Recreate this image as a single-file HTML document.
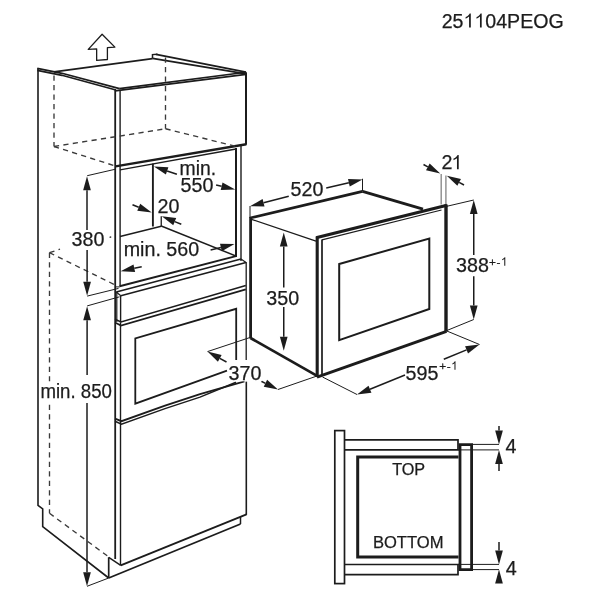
<!DOCTYPE html>
<html><head><meta charset="utf-8"><title>251104PEOG</title>
<style>html,body{margin:0;padding:0;background:#fff;width:600px;height:600px;overflow:hidden;font-family:"Liberation Sans",sans-serif}</style>
</head><body>
<svg width="600" height="600" viewBox="0 0 600 600" stroke="#1c1c1c" fill="#1c1c1c" font-family="'Liberation Sans', sans-serif" style="display:block;will-change:transform">
<rect x="0" y="0" width="600" height="600" fill="#ffffff" stroke="none"/>
<g>
<polyline points="38,68.3 38,505.3 42.7,508.8 42.7,526.7 108.7,578" fill="none" stroke-width="1.6" stroke-linejoin="miter"/>
<polyline points="37.3,68.4 62,73.3 119.5,88.6" fill="none" stroke-width="1.7" stroke-linejoin="miter"/>
<polyline points="37.3,70.3 62,75.3 115,89.7" fill="none" stroke-width="1.7" stroke-linejoin="miter"/>
<line x1="54" y1="71.9" x2="152.5" y2="58.6" stroke-width="1.6" stroke-linecap="butt"/>
<polyline points="152.5,58.6 152.5,54.6 157.5,54.2" fill="none" stroke-width="1.5" stroke-linejoin="miter"/>
<line x1="156" y1="54.3" x2="246" y2="72.2" stroke-width="1.8" stroke-linecap="butt"/>
<line x1="152.5" y1="58.4" x2="246" y2="73.8" stroke-width="1.7" stroke-linecap="butt"/>
<line x1="119.3" y1="88.6" x2="246" y2="72.3" stroke-width="1.6" stroke-linecap="butt"/>
<line x1="115" y1="90.9" x2="246" y2="74.3" stroke-width="1.7" stroke-linecap="butt"/>
<line x1="115.2" y1="89" x2="115.2" y2="559" stroke-width="1.8" stroke-linecap="butt"/>
<line x1="120.1" y1="90" x2="120.1" y2="286.3" stroke-width="1.4" stroke-linecap="butt"/>
<line x1="120.5" y1="322.5" x2="120.5" y2="565.3" stroke-width="1.4" stroke-linecap="butt"/>
<line x1="246" y1="72.2" x2="246" y2="144.8" stroke-width="2.0" stroke-linecap="butt"/>
<line x1="115.5" y1="166.4" x2="246.3" y2="144.2" stroke-width="2.4" stroke-linecap="butt"/>
<line x1="120" y1="169.8" x2="236" y2="149.0" stroke-width="1.3" stroke-linecap="butt"/>
<line x1="236" y1="148" x2="236" y2="257" stroke-width="2.0" stroke-linecap="butt"/>
<line x1="241" y1="145" x2="241" y2="261" stroke-width="1.4" stroke-linecap="butt"/>
<line x1="152.9" y1="163.6" x2="152.9" y2="226.5" stroke-width="1.9" stroke-linecap="butt"/>
<line x1="161.25" y1="216.25" x2="161.25" y2="226.25" stroke-width="1.3" stroke-linecap="butt"/>
<line x1="120" y1="236.5" x2="161.25" y2="226.25" stroke-width="1.4" stroke-linecap="butt"/>
<line x1="161.25" y1="226.0" x2="235.8" y2="256.0" stroke-width="1.4" stroke-linecap="butt"/>
<line x1="115.2" y1="286.9" x2="119.8" y2="286.9" stroke-width="1.0" stroke-linecap="butt"/>
<line x1="109.6" y1="237.3" x2="111.2" y2="236.9" stroke-width="1.2" stroke-linecap="butt"/>
<line x1="119.6" y1="286.25" x2="236" y2="256.2" stroke-width="1.9" stroke-linecap="butt"/>
<line x1="116.25" y1="292" x2="241" y2="259" stroke-width="1.6" stroke-linecap="butt"/>
<line x1="120.8" y1="295.8" x2="246" y2="262.5" stroke-width="1.7" stroke-linecap="butt"/>
<line x1="116.25" y1="292" x2="120.8" y2="295.8" stroke-width="1.2" stroke-linecap="butt"/>
<line x1="241" y1="259" x2="246" y2="262.5" stroke-width="1.2" stroke-linecap="butt"/>
<line x1="120.6" y1="295.8" x2="120.6" y2="322.5" stroke-width="1.4" stroke-linecap="butt"/>
<line x1="116.8" y1="292" x2="116.8" y2="322" stroke-width="1.2" stroke-linecap="butt"/>
<line x1="246.2" y1="262" x2="246.2" y2="360" stroke-width="1.3" stroke-linecap="butt"/>
<line x1="246.3" y1="381.5" x2="246.3" y2="514.9" stroke-width="1.6" stroke-linecap="butt"/>
<polyline points="115,319.3 121,322.0 245.8,285.5" fill="none" stroke-width="1.6" stroke-linejoin="miter"/>
<polyline points="115,322.6 121,325.5 245.8,289.4" fill="none" stroke-width="1.7" stroke-linejoin="miter"/>
<polyline points="227,370.7 135.3,403.6 135.3,338.4 236.2,308.8 236.2,360" fill="none" stroke-width="1.8" stroke-linejoin="miter"/>
<polyline points="115,418.6 121.5,421.2 165,405.7 200,394.1 244.5,381.4" fill="none" stroke-width="1.8" stroke-linejoin="miter"/>
<polyline points="115,421.2 121.5,424.2 165,408.6 200,397.1 236,382.2" fill="none" stroke-width="1.5" stroke-linejoin="miter"/>
<line x1="120.7" y1="565.3" x2="246.5" y2="514.3" stroke-width="1.9" stroke-linecap="butt"/>
<line x1="108.7" y1="578" x2="240.5" y2="524" stroke-width="1.8" stroke-linecap="butt"/>
<line x1="240.5" y1="517" x2="240.5" y2="524" stroke-width="1.5" stroke-linecap="butt"/>
<line x1="108.7" y1="557.3" x2="108.7" y2="578" stroke-width="1.7" stroke-linecap="butt"/>
<line x1="108.7" y1="557.3" x2="120.7" y2="565.3" stroke-width="1.5" stroke-linecap="butt"/>
<line x1="54" y1="75.5" x2="54" y2="146.5" stroke-width="1.35" stroke-dasharray="5.2 4.3" stroke="#3a3a3a" stroke-linecap="butt"/>
<line x1="54" y1="146.5" x2="116" y2="166.2" stroke-width="1.35" stroke-dasharray="5.2 4.3" stroke="#3a3a3a" stroke-linecap="butt"/>
<line x1="54" y1="146.5" x2="165.5" y2="128.75" stroke-width="1.35" stroke-dasharray="5.2 4.3" stroke="#3a3a3a" stroke-linecap="butt"/>
<line x1="165.5" y1="57.5" x2="165.5" y2="128.75" stroke-width="1.35" stroke-dasharray="5.2 4.3" stroke="#3a3a3a" stroke-linecap="butt"/>
<line x1="165.5" y1="128.75" x2="236" y2="146.4" stroke-width="1.35" stroke-dasharray="5.2 4.3" stroke="#3a3a3a" stroke-linecap="butt"/>
<line x1="49.5" y1="252.7" x2="60" y2="249.2" stroke-width="1.35" stroke-dasharray="5.2 4.3" stroke="#3a3a3a" stroke-linecap="butt"/>
<line x1="49.5" y1="252.7" x2="114.7" y2="284.7" stroke-width="1.35" stroke-dasharray="5.2 4.3" stroke="#3a3a3a" stroke-linecap="butt"/>
<line x1="49.5" y1="252.7" x2="49.5" y2="513.3" stroke-width="1.35" stroke-dasharray="5.2 4.3" stroke="#3a3a3a" stroke-linecap="butt"/>
<line x1="49.5" y1="513.3" x2="108.7" y2="556.9" stroke-width="1.35" stroke-dasharray="5.2 4.3" stroke="#3a3a3a" stroke-linecap="butt"/>
<polygon points="102.1,34.2 114.9,47.1 107.4,47.65 107.4,59.5 96.65,60.4 96.65,48.85 88.25,49.4" fill="none" stroke-width="1.3" stroke-linejoin="round"/>
<line x1="250.6" y1="217" x2="250.6" y2="338.5" stroke-width="2.8" stroke-linecap="butt"/>
<line x1="250" y1="218" x2="362.5" y2="191.4" stroke-width="2.7" stroke-linecap="butt"/>
<line x1="251.5" y1="219.3" x2="316" y2="241.2" stroke-width="1.3" stroke-linecap="butt"/>
<line x1="362.5" y1="191.4" x2="423" y2="209.2" stroke-width="2.9" stroke-linecap="butt"/>
<line x1="316" y1="237.8" x2="447" y2="205.2" stroke-width="3.2" stroke-linecap="butt"/>
<line x1="322" y1="239.8" x2="441.5" y2="210.0" stroke-width="1.2" stroke-linecap="butt"/>
<line x1="317.2" y1="237" x2="317.2" y2="377" stroke-width="3.1" stroke-linecap="butt"/>
<line x1="322" y1="239.6" x2="322" y2="375.5" stroke-width="1.7" stroke-linecap="butt"/>
<line x1="446" y1="204.5" x2="446" y2="331.5" stroke-width="3.4" stroke-linecap="butt"/>
<line x1="250.5" y1="338" x2="318" y2="376.4" stroke-width="2.8" stroke-linecap="butt"/>
<line x1="317" y1="377.2" x2="446.5" y2="331.3" stroke-width="3.0" stroke-linecap="butt"/>
<polygon points="339.2,264 429.3,238.5 429.3,309 339.2,340.2" fill="none" stroke-width="2.0" stroke-linejoin="miter"/>
<rect x="334.8" y="430.6" width="9.7" height="153" fill="none" stroke-width="1.7"/>
<polyline points="344.5,439.9 458,439.9 458,449.9 344.5,449.9" fill="none" stroke-width="1.7" stroke-linejoin="miter"/>
<polyline points="344.5,564.5 458,564.5 458,574.6 344.5,574.6" fill="none" stroke-width="1.7" stroke-linejoin="miter"/>
<polyline points="458.5,457.0 357.7,457.0 357.7,556.9 458.5,556.9" fill="none" stroke-width="3.0" stroke-linejoin="miter"/>
<polygon points="460,569.6 460,444.6 471.6,444.6 471.6,569.6" fill="none" stroke-width="2.8" stroke-linejoin="miter"/>
<line x1="471.6" y1="444.4" x2="499" y2="444.4" stroke-width="1.0" stroke-linecap="butt"/>
<line x1="458" y1="449.9" x2="499" y2="449.9" stroke-width="1.0" stroke-linecap="butt"/>
<line x1="458" y1="564.4" x2="499" y2="564.4" stroke-width="1.0" stroke-linecap="butt"/>
<line x1="471.6" y1="569.6" x2="499" y2="569.6" stroke-width="1.0" stroke-linecap="butt"/>
<line x1="87.2" y1="175.7" x2="115" y2="169.3" stroke-width="1.0" stroke-linecap="butt"/>
<line x1="87.2" y1="296.1" x2="118.5" y2="288.4" stroke-width="1.0" stroke-linecap="butt"/>
<line x1="87.2" y1="305.9" x2="119.5" y2="296.8" stroke-width="1.0" stroke-linecap="butt"/>
<line x1="87" y1="586.3" x2="108.7" y2="578" stroke-width="1.0" stroke-linecap="butt"/>
<line x1="207.5" y1="351.6" x2="250" y2="337.5" stroke-width="1.0" stroke-linecap="butt"/>
<line x1="278" y1="389.5" x2="316.25" y2="376.25" stroke-width="1.0" stroke-linecap="butt"/>
<line x1="250" y1="206" x2="250" y2="218" stroke-width="1.0" stroke-linecap="butt"/>
<line x1="362.5" y1="178.75" x2="362.5" y2="191.25" stroke-width="1.0" stroke-linecap="butt"/>
<line x1="447" y1="206.25" x2="473.75" y2="200" stroke-width="1.0" stroke-linecap="butt"/>
<line x1="446.25" y1="330.75" x2="473.75" y2="319.5" stroke-width="1.0" stroke-linecap="butt"/>
<line x1="322.5" y1="377" x2="357" y2="394.5" stroke-width="1.0" stroke-linecap="butt"/>
<line x1="446.25" y1="330.75" x2="479.5" y2="344.5" stroke-width="1.0" stroke-linecap="butt"/>
<line x1="441.2" y1="174" x2="441.2" y2="204.5" stroke="#8c8c8c" stroke-width="1.4"/>
<line x1="445.9" y1="175.5" x2="445.9" y2="204" stroke="#8c8c8c" stroke-width="1.4"/>
<line x1="176.90" y1="174.30" x2="167.14" y2="170.95" stroke-width="1.5"/>
<polygon points="153.90,166.40 168.39,167.31 165.89,174.59" fill="#1c1c1c" stroke="none"/>
<line x1="216.10" y1="184.90" x2="221.61" y2="186.25" stroke-width="1.5"/>
<polygon points="235.20,189.60 220.69,189.99 222.53,182.52" fill="#1c1c1c" stroke="none"/>
<line x1="132.50" y1="204.70" x2="138.73" y2="207.23" stroke-width="1.5"/>
<polygon points="151.70,212.50 137.28,210.80 140.18,203.66" fill="#1c1c1c" stroke="none"/>
<line x1="181.30" y1="224.30" x2="174.73" y2="221.57" stroke-width="1.5"/>
<polygon points="161.80,216.20 176.21,218.02 173.25,225.13" fill="#1c1c1c" stroke="none"/>
<line x1="141.70" y1="266.70" x2="134.29" y2="268.28" stroke-width="1.5"/>
<polygon points="120.60,271.20 133.49,264.51 135.10,272.05" fill="#1c1c1c" stroke="none"/>
<line x1="210.60" y1="250.00" x2="220.91" y2="247.46" stroke-width="1.5"/>
<polygon points="234.50,244.10 221.83,251.19 219.99,243.72" fill="#1c1c1c" stroke="none"/>
<line x1="87.00" y1="230.00" x2="87.00" y2="190.25" stroke-width="1.5"/>
<polygon points="87.00,176.25 90.85,190.25 83.15,190.25" fill="#1c1c1c" stroke="none"/>
<line x1="87.10" y1="250.00" x2="87.10" y2="281.80" stroke-width="1.5"/>
<polygon points="87.10,295.80 83.25,281.80 90.95,281.80" fill="#1c1c1c" stroke="none"/>
<line x1="87.10" y1="375.00" x2="87.10" y2="320.20" stroke-width="1.5"/>
<polygon points="87.10,306.20 90.95,320.20 83.25,320.20" fill="#1c1c1c" stroke="none"/>
<line x1="87.00" y1="403.00" x2="87.00" y2="572.30" stroke-width="1.5"/>
<polygon points="87.00,586.30 83.15,572.30 90.85,572.30" fill="#1c1c1c" stroke="none"/>
<line x1="226.50" y1="362.00" x2="219.78" y2="358.32" stroke-width="1.5"/>
<polygon points="207.50,351.60 221.63,354.94 217.93,361.70" fill="#1c1c1c" stroke="none"/>
<line x1="261.25" y1="381.25" x2="265.44" y2="383.31" stroke-width="1.5"/>
<polygon points="278.00,389.50 263.74,386.77 267.14,379.86" fill="#1c1c1c" stroke="none"/>
<line x1="288.75" y1="196.25" x2="263.56" y2="202.75" stroke-width="1.5"/>
<polygon points="250.00,206.25 262.59,199.02 264.52,206.48" fill="#1c1c1c" stroke="none"/>
<line x1="326.25" y1="188.00" x2="348.87" y2="182.70" stroke-width="1.5"/>
<polygon points="362.50,179.50 349.75,186.44 347.99,178.95" fill="#1c1c1c" stroke="none"/>
<line x1="283.75" y1="287.50" x2="283.75" y2="246.50" stroke-width="1.5"/>
<polygon points="283.75,232.50 287.60,246.50 279.90,246.50" fill="#1c1c1c" stroke="none"/>
<line x1="283.75" y1="307.00" x2="283.75" y2="336.75" stroke-width="1.5"/>
<polygon points="283.75,350.75 279.90,336.75 287.60,336.75" fill="#1c1c1c" stroke="none"/>
<line x1="423.50" y1="164.50" x2="427.85" y2="166.82" stroke-width="1.5"/>
<polygon points="440.20,173.40 426.03,170.21 429.66,163.42" fill="#1c1c1c" stroke="none"/>
<line x1="464.00" y1="185.00" x2="459.14" y2="182.40" stroke-width="1.5"/>
<polygon points="446.80,175.80 460.96,179.01 457.33,185.80" fill="#1c1c1c" stroke="none"/>
<line x1="473.75" y1="255.00" x2="473.75" y2="214.00" stroke-width="1.5"/>
<polygon points="473.75,200.00 477.60,214.00 469.90,214.00" fill="#1c1c1c" stroke="none"/>
<line x1="473.75" y1="276.25" x2="473.75" y2="305.50" stroke-width="1.5"/>
<polygon points="473.75,319.50 469.90,305.50 477.60,305.50" fill="#1c1c1c" stroke="none"/>
<line x1="405.00" y1="375.00" x2="369.97" y2="389.23" stroke-width="1.5"/>
<polygon points="357.00,394.50 368.52,385.66 371.42,392.80" fill="#1c1c1c" stroke="none"/>
<line x1="443.80" y1="359.20" x2="466.55" y2="349.83" stroke-width="1.5"/>
<polygon points="479.50,344.50 468.02,353.39 465.09,346.27" fill="#1c1c1c" stroke="none"/>
<line x1="499.00" y1="426.00" x2="499.00" y2="430.40" stroke-width="1.5"/>
<polygon points="499.00,444.40 495.15,430.40 502.85,430.40" fill="#1c1c1c" stroke="none"/>
<line x1="499.00" y1="471.00" x2="499.00" y2="464.00" stroke-width="1.5"/>
<polygon points="499.00,450.00 502.85,464.00 495.15,464.00" fill="#1c1c1c" stroke="none"/>
<line x1="499.00" y1="542.00" x2="499.00" y2="550.40" stroke-width="1.5"/>
<polygon points="499.00,564.40 495.15,550.40 502.85,550.40" fill="#1c1c1c" stroke="none"/>
<polygon points="499.00,569.60 502.85,583.60 495.15,583.60" fill="#1c1c1c" stroke="none"/>
<rect x="40" y="381.5" width="72.5" height="19.5" fill="#fff" stroke="none"/>
<rect x="227.8" y="360.5" width="34" height="20.8" fill="#fff" stroke="none"/>
<text stroke="#1c1c1c" stroke-width="0.25" x="441.7" y="27.6" font-size="19.6" text-anchor="start">25</text>
<path transform="translate(463.50,27.60) scale(0.00957,-0.00957)" stroke="none" d="M763 0H583V1147Q518 1085 412.5 1023Q307 961 223 930V1104Q374 1175 487 1276Q600 1377 647 1472H763Z"/>
<path transform="translate(474.39,27.60) scale(0.00957,-0.00957)" stroke="none" d="M763 0H583V1147Q518 1085 412.5 1023Q307 961 223 930V1104Q374 1175 487 1276Q600 1377 647 1472H763Z"/>
<text stroke="#1c1c1c" stroke-width="0.25" x="485.29" y="27.6" font-size="19.6" text-anchor="start">04PEOG</text>
<text stroke="#1c1c1c" stroke-width="0.25" x="179.6" y="175.4" font-size="19.7" text-anchor="start" textLength="36.6" lengthAdjust="spacingAndGlyphs">min.</text>
<text stroke="#1c1c1c" stroke-width="0.25" x="180.5" y="192.4" font-size="19.7" text-anchor="start">550</text>
<text stroke="#1c1c1c" stroke-width="0.25" x="157.5" y="213.0" font-size="19.7" text-anchor="start">20</text>
<text stroke="#1c1c1c" stroke-width="0.25" x="123.7" y="256.4" font-size="19.7" text-anchor="start">min. 560</text>
<text stroke="#1c1c1c" stroke-width="0.25" x="71.5" y="246.3" font-size="19.7" text-anchor="start">380</text>
<text stroke="#1c1c1c" stroke-width="0.25" x="40.4" y="398" font-size="19.7" text-anchor="start" textLength="71.5" lengthAdjust="spacingAndGlyphs">min. 850</text>
<text stroke="#1c1c1c" stroke-width="0.25" x="228.6" y="380.3" font-size="19.7" text-anchor="start">370</text>
<text stroke="#1c1c1c" stroke-width="0.25" x="290.6" y="196.3" font-size="19.7" text-anchor="start">520</text>
<text stroke="#1c1c1c" stroke-width="0.25" x="266.3" y="305.0" font-size="19.7" text-anchor="start">350</text>
<text stroke="#1c1c1c" stroke-width="0.25" x="441.4" y="169.2" font-size="19.7" text-anchor="start">2</text>
<path transform="translate(451.37,169.20) scale(0.00962,-0.00962)" stroke="none" d="M763 0H583V1147Q518 1085 412.5 1023Q307 961 223 930V1104Q374 1175 487 1276Q600 1377 647 1472H763Z"/>
<text stroke="#1c1c1c" stroke-width="0.25" x="456.0" y="272.1" font-size="19.7" text-anchor="start">388</text>
<text stroke="#1c1c1c" stroke-width="0.25" x="489.0" y="265.7" font-size="11.8" text-anchor="start">+</text>
<text stroke="#1c1c1c" stroke-width="0.25" x="496.58" y="265.7" font-size="11.8" text-anchor="start">-</text>
<path transform="translate(500.90,265.70) scale(0.00576,-0.00576)" stroke="none" d="M763 0H583V1147Q518 1085 412.5 1023Q307 961 223 930V1104Q374 1175 487 1276Q600 1377 647 1472H763Z"/>
<text stroke="#1c1c1c" stroke-width="0.25" x="405.6" y="379.6" font-size="19.7" text-anchor="start">595</text>
<text stroke="#1c1c1c" stroke-width="0.25" x="439.2" y="369.8" font-size="11.8" text-anchor="start">+</text>
<text stroke="#1c1c1c" stroke-width="0.25" x="446.78" y="369.8" font-size="11.8" text-anchor="start">-</text>
<path transform="translate(451.10,369.80) scale(0.00576,-0.00576)" stroke="none" d="M763 0H583V1147Q518 1085 412.5 1023Q307 961 223 930V1104Q374 1175 487 1276Q600 1377 647 1472H763Z"/>
<text stroke="#1c1c1c" stroke-width="0.25" x="392.2" y="475.0" font-size="16.2" text-anchor="start">TOP</text>
<text stroke="#1c1c1c" stroke-width="0.25" x="372.9" y="548.1" font-size="16.2" text-anchor="start" textLength="70.6" lengthAdjust="spacingAndGlyphs">BOTTOM</text>
<text stroke="#1c1c1c" stroke-width="0.25" x="505.6" y="453.2" font-size="19.7" text-anchor="start">4</text>
<text stroke="#1c1c1c" stroke-width="0.25" x="505.8" y="574.5" font-size="19.7" text-anchor="start">4</text>
</g>
</svg>
</body></html>
